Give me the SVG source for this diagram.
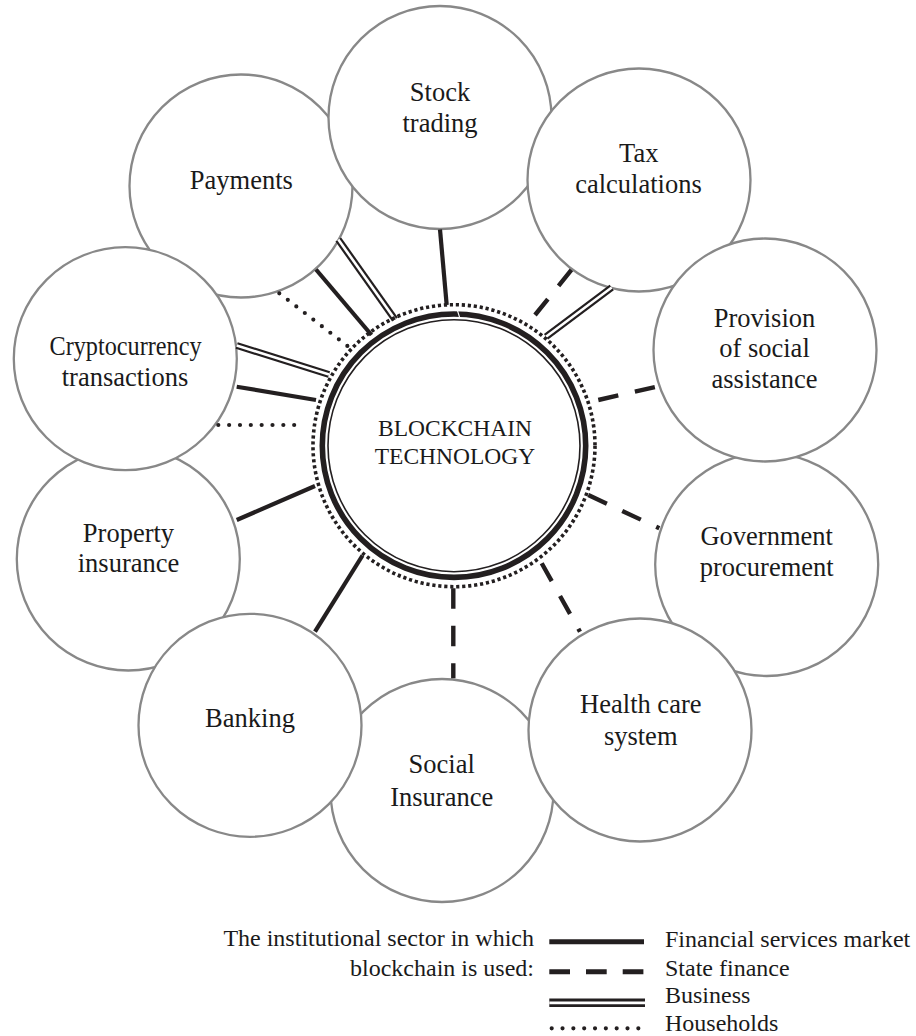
<svg xmlns="http://www.w3.org/2000/svg" width="916" height="1036" viewBox="0 0 916 1036">
  <style>
    .node circle { fill: #fff; stroke: #888; stroke-width: 2.3; }
    .serif { font-family: "Liberation Serif", "Tinos", "Times New Roman", Times, "DejaVu Serif", serif; fill: #1a1a1a; }
    .lbl { font-size: 26.5px; text-anchor: middle; }
    .core-lbl { font-size: 23.5px; text-anchor: middle; }
    .leg { font-size: 24px; }
    .fin { stroke: #231f20; stroke-width: 4.2; fill: none; }
    .state { stroke: #231f20; stroke-width: 4.4; stroke-dasharray: 20.5 17; fill: none; }
    .biz-o { stroke: #231f20; stroke-width: 7; fill: none; }
    .biz-i { stroke: #fff; stroke-width: 2.6; fill: none; }
    .home { stroke: #231f20; stroke-width: 4.2; stroke-linecap: round; stroke-dasharray: 0 10.8; fill: none; }
  </style>

  <rect width="916" height="1036" fill="#fff"/>

  <!-- sector circles (later ones overlap earlier ones) -->
  <g id="node-property" class="node">
    <circle cx="128.3" cy="559" r="111.5"/>
    <text class="serif lbl" font-family="Liberation Serif, serif"><tspan x="128.5" y="541.7">Property</tspan><tspan x="128.5" y="571.7">insurance</tspan></text>
  </g>
  <g id="node-payments" class="node">
    <circle cx="241" cy="186" r="111.5"/>
    <text class="serif lbl" font-family="Liberation Serif, serif" x="241.3" y="189.3">Payments</text>
  </g>
  <g id="node-crypto" class="node">
    <circle cx="125.3" cy="358.7" r="111.5"/>
    <text class="serif lbl" font-family="Liberation Serif, serif"><tspan x="125.5" y="355" textLength="152" lengthAdjust="spacingAndGlyphs">Cryptocurrency</tspan><tspan x="125" y="385.7">transactions</tspan></text>
  </g>
  <g id="node-stock" class="node">
    <circle cx="440" cy="117.5" r="111.5"/>
    <text class="serif lbl" font-family="Liberation Serif, serif"><tspan x="440" y="100.7">Stock</tspan><tspan x="440" y="131.7">trading</tspan></text>
  </g>
  <g id="node-tax" class="node">
    <circle cx="639" cy="180" r="111.5"/>
    <text class="serif lbl" font-family="Liberation Serif, serif"><tspan x="638.8" y="161.7">Tax</tspan><tspan x="638.5" y="193.3">calculations</tspan></text>
  </g>
  <g id="node-government" class="node">
    <circle cx="766.7" cy="564.5" r="111.5"/>
    <text class="serif lbl" font-family="Liberation Serif, serif"><tspan x="766.7" y="545">Government</tspan><tspan x="766.7" y="576">procurement</tspan></text>
  </g>
  <g id="node-provision" class="node">
    <circle cx="765" cy="350" r="111.5"/>
    <text class="serif lbl" font-family="Liberation Serif, serif"><tspan x="764.5" y="326.7">Provision</tspan><tspan x="764.5" y="356.7">of social</tspan><tspan x="764.5" y="388.3">assistance</tspan></text>
  </g>
  <g id="node-social" class="node">
    <circle cx="442" cy="790.5" r="111.5"/>
    <text class="serif lbl" font-family="Liberation Serif, serif"><tspan x="441.7" y="773.3">Social</tspan><tspan x="441.7" y="805.7">Insurance</tspan></text>
  </g>
  <g id="node-banking" class="node">
    <circle cx="250" cy="725.3" r="111.5"/>
    <text class="serif lbl" font-family="Liberation Serif, serif" x="250" y="726.7">Banking</text>
  </g>
  <g id="node-health" class="node">
    <circle cx="640" cy="730" r="111.5"/>
    <text class="serif lbl" font-family="Liberation Serif, serif"><tspan x="640.8" y="713.3">Health care</tspan><tspan x="640.7" y="745">system</tspan></text>
  </g>

  <!-- connectors from the sector circles to the core -->
  <g id="connectors">
    <!-- financial services market -->
    <line class="fin" x1="440" y1="229.5" x2="446.7" y2="305"/>
    <line class="fin" x1="316" y1="269.5" x2="371.5" y2="335"/>
    <line class="fin" x1="236.7" y1="386.7" x2="316" y2="400"/>
    <line class="fin" x1="236.7" y1="520" x2="315" y2="486"/>
    <line class="fin" x1="315" y1="631.7" x2="362.5" y2="555.5"/>
    <!-- state finance -->
    <line class="state" x1="535" y1="315" x2="571.7" y2="269.5"/>
    <line class="state" x1="598.3" y1="400" x2="656.7" y2="386.7"/>
    <line class="state" x1="588.3" y1="495" x2="659.3" y2="528.3"/>
    <line class="state" x1="541.7" y1="563.3" x2="580" y2="631.7"/>
    <line class="state" x1="453.3" y1="588.3" x2="453.3" y2="678.3"/>
    <!-- business -->
    <line class="biz-o" x1="338.3" y1="239.5" x2="395" y2="319.5"/>
    <line class="biz-i" x1="338.3" y1="239.5" x2="395" y2="319.5"/>
    <line class="biz-o" x1="611.7" y1="287.5" x2="546" y2="336.7"/>
    <line class="biz-i" x1="611.7" y1="287.5" x2="546" y2="336.7"/>
    <line class="biz-o" x1="236.7" y1="345.5" x2="329" y2="374.5"/>
    <line class="biz-i" x1="236.7" y1="345.5" x2="329" y2="374.5"/>
    <!-- households -->
    <line class="home" x1="279.3" y1="293.3" x2="347.5" y2="346" style="stroke-dasharray:0 10.75"/>
    <line class="home" x1="218.3" y1="425" x2="305" y2="425" style="stroke-dasharray:0 10.84"/>
  </g>

  <!-- core: blockchain technology -->
  <g id="node-core">
    <circle cx="454" cy="445.7" r="141" fill="none" stroke="#231f20" stroke-width="3.6" stroke-dasharray="3.2 2.8"/>
    <circle cx="454" cy="445.7" r="131.7" fill="#fff" stroke="#231f20" stroke-width="5.6"/>
    <circle cx="454" cy="445.7" r="126" fill="none" stroke="#231f20" stroke-width="1.6"/>
    <line x1="457.4" y1="310.4" x2="459.6" y2="317.4" stroke="#fff" stroke-width="1.2"/>
    <text class="serif core-lbl" font-family="Liberation Serif, serif"><tspan x="455" y="436">BLOCKCHAIN</tspan><tspan x="455" y="464">TECHNOLOGY</tspan></text>
  </g>

  <!-- legend -->
  <g id="legend">
    <text class="serif leg" font-family="Liberation Serif, serif" text-anchor="end"><tspan x="534" y="946">The institutional sector in which</tspan><tspan x="534" y="976">blockchain is used:</tspan></text>
    <line class="fin" x1="549.3" y1="941.7" x2="644" y2="941.7" style="stroke-width:5"/>
    <line class="state" x1="549.3" y1="971.7" x2="644" y2="971.7" style="stroke-width:5;stroke-dasharray:20.7 16"/>
    <line class="biz-o" x1="549.3" y1="1002.8" x2="645" y2="1002.8" style="stroke-width:8.6"/>
    <line class="biz-i" x1="549.3" y1="1002.8" x2="645" y2="1002.8" style="stroke-width:2.8"/>
    <line class="home" x1="551.7" y1="1028.3" x2="638.4" y2="1028.3" style="stroke-dasharray:0 10.83"/>
    <text class="serif leg" font-family="Liberation Serif, serif"><tspan x="665" y="946.7">Financial services market</tspan><tspan x="665" y="976">State finance</tspan><tspan x="665" y="1002.7">Business</tspan><tspan x="665" y="1030.7">Households</tspan></text>
  </g>
</svg>
